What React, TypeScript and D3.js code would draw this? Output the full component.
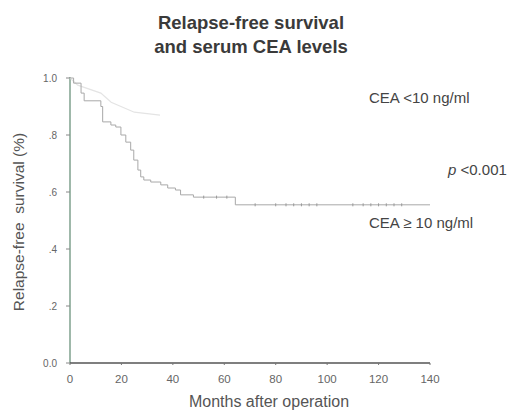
import React from "react";
import * as d3 from "d3";

const xTicks = [0, 20, 40, 60, 80, 100, 120, 140];
const yTicks = [0, 0.2, 0.4, 0.6, 0.8, 1.0];
const yTickLabels = ["0.0", ".2", ".4", ".6", ".8", "1.0"];

// CEA >= 10 ng/ml step curve (month, survival)
const highMonths = [0, 1.4, 4.3, 5.5, 12, 12.7, 15.9, 17.8, 19.8, 21.7, 23.6, 24.8, 26.4, 27.5, 28.7, 31.4, 35.3, 38, 41, 43, 48, 64.3, 140];
const highValues = [1.0, 0.982, 0.947, 0.92, 0.9, 0.846, 0.835, 0.828, 0.8, 0.775, 0.747, 0.712, 0.677, 0.653, 0.642, 0.635, 0.625, 0.614, 0.607, 0.59, 0.582, 0.555, 0.555];
// censored observations on the CEA >= 10 curve (months)
const censorMonths = [52, 57, 61, 72, 80, 84, 87, 90, 93, 96, 110, 114, 117, 120, 123, 126, 129];

// CEA < 10 ng/ml (faint curve)
const lowMonths = [0, 3, 12, 16, 25, 35];
const lowValues = [1.0, 0.975, 0.947, 0.915, 0.88, 0.87];

const W = 513;
const H = 412;

export default function App() {
  const x = d3.scaleLinear().domain([0, 140]).range([70, 430]);
  const y = d3.scaleLinear().domain([0, 1]).range([363, 78]);

  const step = d3
    .line<[number, number]>()
    .x((d) => x(d[0]))
    .y((d) => y(d[1]))
    .curve(d3.curveStepAfter);

  const smooth = d3
    .line<[number, number]>()
    .x((d) => x(d[0]))
    .y((d) => y(d[1]))
    .curve(d3.curveLinear);

  const highData: [number, number][] = highMonths.map((m, i) => [m, highValues[i]]);
  const lowData: [number, number][] = lowMonths.map((m, i) => [m, lowValues[i]]);

  const valueAt = (m: number) => {
    let v = highValues[0];
    for (let i = 0; i < highMonths.length; i++) {
      if (highMonths[i] <= m) v = highValues[i];
    }
    return v;
  };

  const font = "'Liberation Sans', Arial, sans-serif";

  return (
    <svg
      width={W}
      height={H}
      style={{ position: "absolute", left: 0, top: 0, background: "#fff" }}
      fontFamily={font}
    >
      <rect x={0} y={0} width={W} height={H} fill="#fff" />
      {/* Title */}
      <text x={251} y={29} textAnchor="middle" fontSize={18.5} fontWeight="bold" fill="#3a3a3a">
        Relapse-free survival
      </text>
      <text x={251} y={53} textAnchor="middle" fontSize={18.5} fontWeight="bold" fill="#3a3a3a">
        and serum CEA levels
      </text>

      {/* Y axis */}
      <line x1={x(0)} x2={x(0)} y1={y(1) - 1} y2={y(0)} stroke="#7fa08e" strokeWidth={1.5} />
      {yTicks.map((t, i) => (
        <g key={"y" + i}>
          <line x1={x(0) - 4} x2={x(0)} y1={y(t)} y2={y(t)} stroke="#888" strokeWidth={1} />
          <text x={x(0) - 13} y={y(t) + 4} textAnchor="end" fontSize={10} fill="#666">
            {yTickLabels[i]}
          </text>
        </g>
      ))}

      {/* X axis */}
      <line x1={x(0)} x2={x(140)} y1={y(0)} y2={y(0)} stroke="#555" strokeWidth={1.6} />
      {xTicks.map((t, i) => (
        <g key={"x" + i}>
          <line x1={x(t)} x2={x(t)} y1={y(0)} y2={y(0) + 2} stroke="#777" strokeWidth={1} />
          <text x={x(t)} y={y(0) + 20} textAnchor="middle" fontSize={11.5} fill="#666">
            {t}
          </text>
        </g>
      ))}

      {/* Axis labels */}
      <text
        transform={`translate(24,222) rotate(-90)`}
        textAnchor="middle"
        fontSize={15.5}
        fill="#555"
      >
        Relapse-free{"\u00a0\u00a0"}survival (%)
      </text>
      <text x={269} y={407} textAnchor="middle" fontSize={16} fill="#555">
        Months after operation
      </text>

      {/* Curves */}
      <path d={smooth(lowData) || ""} fill="none" stroke="#e4e4e4" strokeWidth={1.2} />
      <path d={step(highData) || ""} fill="none" stroke="#a8a8a8" strokeWidth={1} />
      {censorMonths.map((m, i) => (
        <line
          key={"c" + i}
          x1={x(m)}
          x2={x(m)}
          y1={y(valueAt(m)) - 1.5}
          y2={y(valueAt(m)) + 1.5}
          stroke="#999"
          strokeWidth={1}
        />
      ))}

      {/* Annotations */}
      <text x={369} y={103} fontSize={15} fill="#444">
        CEA {"<"}10 ng/ml
      </text>
      <text x={448} y={175} fontSize={15} fill="#444">
        <tspan fontStyle="italic">p</tspan> {"<"}0.001
      </text>
      <text x={369} y={228} fontSize={15} fill="#444">
        CEA {"\u2265"} 10 ng/ml
      </text>
    </svg>
  );
}
